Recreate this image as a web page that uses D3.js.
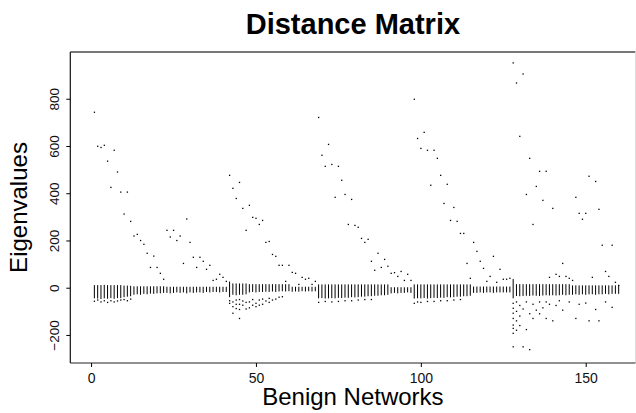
<!DOCTYPE html>
<html><head><meta charset="utf-8">
<script src="https://cdn.jsdelivr.net/npm/d3@7"></script>
<style>body{margin:0;background:#fff}svg{display:block}</style>
</head><body>
<script>
// Top (positive) eigenvalue of each benign network, networks 1..160
const topEig = [743,599,594,603,536,425,582,490,405,312,405,281,219,226,200,184,146,86,134,86,
61,36,243,215,243,200,219,103,291,192,129,86,129,112,78,95,31,36,57,44,
27,476,421,378,446,336,243,349,298,294,268,285,192,196,141,133,95,95,27,95,
65,61,14,44,36,40,14,27,721,561,514,607,522,383,514,455,395,268,374,264,
256,209,192,205,112,74,146,86,120,91,61,64,48,69,31,57,31,798,632,590,
658,582,434,582,548,476,357,438,285,340,281,230,230,103,40,192,154,112,82,27,
48,133,23,78,36,36,40,952,867,641,905,395,548,268,429,493,370,493,44,336,
57,48,103,48,40,31,383,315,290,315,472,44,450,332,180,69,48,180,23,10];
// Upper and lower ends of the dense band of small eigenvalues per network
const bandHigh = [11,11,11,12,11,11,11,11,11,9,9,8,6,6,6,6,6,6,6,6,
6,6,4,4,4,4,4,4,4,4,4,4,4,4,4,4,4,4,4,4,
4,26,18,18,18,18,18,15,15,15,15,15,15,15,15,15,15,15,15,15,
4,4,4,4,4,4,4,4,14,14,14,14,14,14,14,14,14,14,14,14,
14,14,14,14,14,14,14,14,14,14,2,2,2,2,2,2,2,14,14,14,
14,14,14,14,14,14,14,14,14,14,14,14,14,14,14,5,5,5,5,5,
5,5,5,5,5,5,5,37,15,15,15,15,15,15,15,15,15,15,15,15,
15,15,15,15,15,10,10,10,10,10,10,10,10,10,10,10,10,10,10,10];
const bandLow = [-45,-46,-48,-45,-47,-44,-47,-44,-44,-40,-38,-36,-30,-28,-30,-26,-28,-25,-26,-24,
-24,-22,-22,-24,-22,-20,-22,-20,-24,-20,-22,-20,-20,-22,-18,-20,-18,-18,-20,-18,
-18,-40,-30,-32,-30,-30,-28,-20,-18,-20,-18,-18,-17,-18,-16,-18,-16,-15,-16,-15,
-17,-16,-17,-15,-16,-15,-16,-15,-45,-44,-46,-45,-44,-45,-43,-44,-42,-43,-40,-41,
-40,-38,-38,-36,-36,-34,-34,-32,-32,-30,-24,-22,-24,-22,-22,-20,-22,-46,-45,-45,
-44,-46,-44,-43,-44,-42,-43,-40,-41,-40,-38,-38,-36,-36,-34,-22,-22,-20,-22,-20,
-20,-22,-20,-20,-20,-20,-20,-45,-35,-36,-35,-34,-35,-33,-34,-35,-33,-32,-33,-32,
-33,-32,-30,-32,-30,-30,-28,-30,-28,-30,-28,-28,-30,-28,-28,-26,-28,-26,-26,-26];
// Isolated small eigenvalues below the band: network and value
const extraNet = [1,2,3,4,5,6,7,8,9,10,11,12,
42,42,43,43,43,44,44,44,45,45,45,45,46,46,47,47,48,48,49,49,50,50,51,51,52,52,53,54,54,55,56,57,58,
69,71,73,75,77,79,81,83,85,
98,99,100,102,104,106,108,110,112,
128,128,128,128,128,128,128,128,129,129,129,129,130,130,130,131,131,132,132,133,133,134,134,135,136,136,137,138,138,139,140,141,142,143,145,147,148,150,151,153,154,156,158];
const extraVal = [-57,-52,-60,-55,-62,-55,-60,-56,-52,-50,-55,-48,
-66,-55,-108,-80,-60,-88,-70,-52,-130,-92,-70,-50,-74,-56,-62,-90,-85,-60,-74,-50,-66,-80,-74,-52,-70,-48,-56,-62,-45,-52,-48,-40,-38,
-62,-58,-60,-58,-55,-55,-52,-50,-50,
-66,-60,-62,-58,-58,-55,-55,-52,-50,
-66,-87,-108,-130,-158,-172,-193,-250,-60,-100,-140,-180,-75,-120,-160,-250,-90,-177,-60,-262,-110,-130,-70,-95,-110,-60,-85,-130,-60,-70,-140,-75,-55,-95,-60,-130,-70,-65,-140,-92,-140,-60,-83];
const xTicks = [0,50,100,150];
const yTicks = [-200,0,200,400,600,800];

const W = 636, H = 413;
const svg = d3.select("body").append("svg").attr("width", W).attr("height", H);
const L = 70.3, R = 635.5, T = 52, B = 363;
const x = d3.scaleLinear().domain([-6.3, 165.1]).range([L, R]);
const y = d3.scaleLinear().domain([-318.8, 998]).range([B, T]);
const nets = d3.range(1, topEig.length + 1);

// frame
svg.append("line").attr("x1", L).attr("x2", R).attr("y1", T).attr("y2", T).attr("stroke", "#777").attr("stroke-width", 2);
svg.append("line").attr("x1", R).attr("x2", R).attr("y1", T).attr("y2", B).attr("stroke", "#ddd").attr("stroke-width", 1);
svg.append("line").attr("x1", L).attr("x2", R).attr("y1", B).attr("y2", B).attr("stroke", "#222").attr("stroke-width", 1.2);
svg.append("line").attr("x1", L).attr("x2", L).attr("y1", T).attr("y2", B).attr("stroke", "#111").attr("stroke-width", 1.2);

const font = "'Liberation Sans', Arial, Helvetica, sans-serif";
// axes
const xa = svg.append("g").attr("transform", `translate(0,${B})`)
  .call(d3.axisBottom(x).tickValues(xTicks).tickSize(4).tickSizeOuter(0));
xa.select(".domain").remove();
xa.selectAll("text").attr("font-family", font).attr("font-size", 14).attr("fill", "#111").attr("dy", "0.95em");
const ya = svg.append("g").attr("transform", `translate(${L},0)`)
  .call(d3.axisLeft(y).tickValues(yTicks).tickSize(4).tickSizeOuter(0).tickFormat(d => d < 0 ? "\u2212" + Math.abs(d) : d));
ya.select(".domain").remove();
ya.selectAll("text").attr("font-family", font).attr("font-size", 13.5).attr("fill", "#111")
  .attr("x", null).attr("dy", null).attr("text-anchor", "middle")
  .attr("transform", "translate(-11.5,0) rotate(-90)");

// band of small eigenvalues
svg.append("g").selectAll("line").data(nets).join("line")
  .attr("x1", d => x(d)).attr("x2", d => x(d))
  .attr("y1", (d, i) => y(bandHigh[i])).attr("y2", (d, i) => y(bandLow[i]))
  .attr("stroke", "#000").attr("stroke-width", 1);
// top eigenvalues
svg.append("g").selectAll("rect").data(nets).join("rect")
  .attr("x", d => x(d) - 0.6).attr("y", (d, i) => y(topEig[i]) - 0.6)
  .attr("width", 1.3).attr("height", 1.3).attr("fill", "#000");
// isolated points
svg.append("g").selectAll("rect").data(extraNet).join("rect")
  .attr("x", d => x(d) - 0.6).attr("y", (d, i) => y(extraVal[i]) - 0.6)
  .attr("width", 1.3).attr("height", 1.3).attr("fill", "#000");

// titles
svg.append("text").attr("x", (L + R) / 2).attr("y", 34).attr("text-anchor", "middle")
  .attr("font-family", font).attr("font-weight", "bold").attr("font-size", 29).text("Distance Matrix");
svg.append("text").attr("x", (L + R) / 2).attr("y", 405).attr("text-anchor", "middle")
  .attr("font-family", font).attr("font-size", 24).text("Benign Networks");
svg.append("text").attr("transform", `translate(27,${(T + B) / 2}) rotate(-90)`).attr("text-anchor", "middle")
  .attr("font-family", font).attr("font-size", 24).text("Eigenvalues");
</script>
</body></html>
